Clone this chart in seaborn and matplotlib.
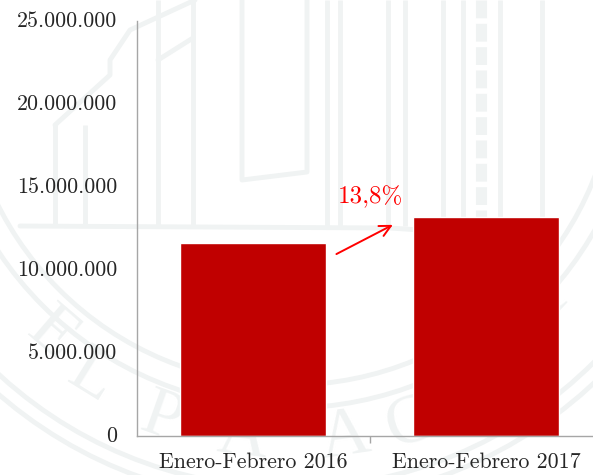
import numpy as np
import pandas as pd
import seaborn as sns
import matplotlib.pyplot as plt

periodos = ['Enero-Febrero 2016', 'Enero-Febrero 2017']
valores = [11620000, 13170000]
marcas_y = [0, 5000000, 10000000, 15000000, 20000000, 25000000]
etiquetas_y = ['0', '5.000.000', '10.000.000', '15.000.000', '20.000.000', '25.000.000']
variacion = '13,8%'

sns.set_theme(style='white')
plt.rcParams['font.family'] = ['cmr10', 'Liberation Serif']
plt.rcParams['axes.formatter.use_mathtext'] = True

fig = plt.figure(figsize=(5.93, 4.75), dpi=100)
# el eje se sale por la derecha de la figura, como en el original
ax = fig.add_axes([136.5 / 593, 39 / 475, 466 / 593, 415 / 475])
ax.patch.set_alpha(0)

# Marca de agua del fondo: anillos, columnas y letras del sello
fondo = fig.add_axes([0, 0, 1, 1], zorder=-1)
fondo.set_xlim(0, 593)
fondo.set_ylim(475, 0)
fondo.axis('off')
color_agua = '#f0f3f3'
centro = (290, 58)
for radio in [327, 350, 430, 445]:
    fondo.add_patch(plt.Circle(centro, radio, fill=False, color=color_agua, lw=3.5))
for x in [158, 193, 327, 340, 388, 405, 443, 463, 500, 542]:
    fondo.plot([x, x], [0, 226], color=color_agua, lw=3.5, solid_capstyle='butt')
for x in [55, 85]:
    fondo.plot([x, x], [125, 226], color=color_agua, lw=3.5, solid_capstyle='butt')
fondo.plot([242, 242, 307, 307], [0, 180, 172, 0], color=color_agua, lw=3.5)
fondo.plot([20, 390, 510], [226, 228, 236], color=color_agua, lw=3.5)
fondo.plot([55, 110, 110, 130, 195], [125, 75, 60, 30, 0], color=color_agua, lw=3.5)
fondo.plot([158, 193], [60, 38], color=color_agua, lw=3.5)
fondo.plot([481, 481], [0, 226], color=color_agua, lw=8, ls=(0, (1.6, 0.5)))
for letra, x, y in [('E', 52, 335), ('L', 92, 378), ('P', 162, 420), ('A', 242, 438),
                    ('A', 345, 438), ('C', 410, 425), ('Y', 548, 298)]:
    giro = np.degrees(np.arctan2(x - centro[0], y - centro[1]))
    fondo.text(x, y, letra, color=color_agua, fontsize=50, rotation=giro,
               ha='center', va='center', family='Liberation Serif')

df = pd.DataFrame({'periodo': periodos, 'valor': valores})
sns.barplot(data=df, x='periodo', y='valor', color='#c00000', saturation=1, width=0.625, ax=ax)

ax.set_xlim(-0.5, 1.5)
ax.set_ylim(0, 25000000)
ax.set_xlabel('')
ax.set_ylabel('')
ax.set_yticks(marcas_y)
ax.set_yticklabels(etiquetas_y, fontsize=15.8, color='#262626', va='center')
ax.set_xticks([0, 1], labels=periodos, fontsize=15.8, color='#262626')
ax.tick_params(axis='x', length=0, pad=12)
ax.tick_params(axis='y', length=7, width=1, color='#a6a6a6', pad=7)
ax.vlines(0.5, -0.017, 0, transform=ax.get_xaxis_transform(), color='#a6a6a6', lw=1, clip_on=False)
sns.despine(ax=ax)
for lado in ['left', 'bottom']:
    ax.spines[lado].set_color('#a6a6a6')
    ax.spines[lado].set_linewidth(1)

# Flecha de variación
ax.annotate('', xy=(0.6, 12720000), xytext=(0.358, 10960000),
            arrowprops=dict(arrowstyle='->', color='#ff0000', lw=1.4, mutation_scale=20,
                            shrinkA=0, shrinkB=0))
ax.text(0.365, 14400000, variacion, color='#ff0000', fontsize=18, ha='left', va='center')

fig.savefig('out.png', dpi=100)
